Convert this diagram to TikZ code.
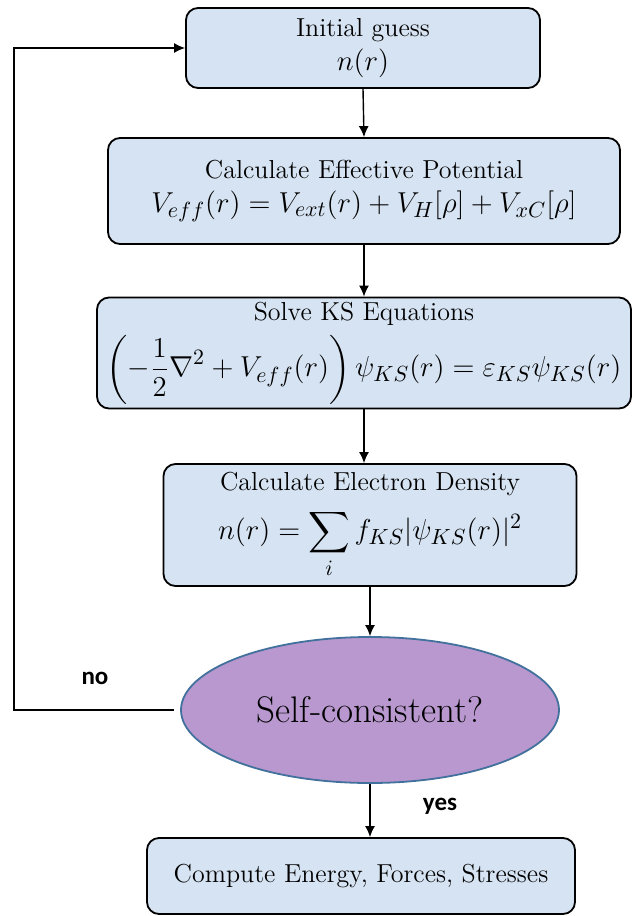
\documentclass[tikz,border=0pt]{standalone}
\usepackage{amsmath}
\usepackage{fontspec}
\usetikzlibrary{shapes.geometric, arrows.meta, positioning, calc}
\newfontfamily\answerfont{Carlito}
\definecolor{ks-blue}{RGB}{214,227,242}
\definecolor{ks-purple}{RGB}{184,152,206}
\definecolor{ks-edge}{RGB}{65,113,156}
\newcommand{\eqsize}{\fontsize{15}{18}\selectfont}

\begin{document}
\begin{tikzpicture}[
  x=0.5pt, y=0.5pt,
  stepbox/.style={draw=black, line width=0.9pt, fill=ks-blue, rounded corners=6pt, align=center, inner sep=0pt, font=\fontsize{13}{17}\selectfont},
  decision/.style={ellipse, draw=ks-edge, line width=0.9pt, fill=ks-purple, inner sep=0pt, font=\fontsize{18.5}{20}\selectfont},
  flow/.style={-{Latex[length=5.5pt,width=5pt]}, line width=0.7pt},
  answer/.style={font=\answerfont\bfseries\fontsize{12.5}{14}\selectfont},
]
  \useasboundingbox (0,0) rectangle (632,-916);

  % Steps of the SCF cycle
  \node[stepbox, minimum width=177pt, minimum height=40pt] (guess) at (363,-48) {Initial guess\\ {\eqsize$n(r)$}};
  \node[stepbox, minimum width=256pt, minimum height=53pt] (veff) at (364,-191) {Calculate Effective Potential\\ {\eqsize$V_{eff}(r) = V_{ext}(r) + V_H[\rho] + V_{xC}[\rho]$}};
  \node[stepbox, minimum width=267pt, minimum height=55.5pt] (kseq) at (364,-353) {Solve KS Equations\\[4pt] {\eqsize$\displaystyle\left(-\frac{1}{2}\nabla^2 + V_{eff}(r)\right)\psi_{KS}(r) = \varepsilon_{KS}\psi_{KS}(r)$}};
  \node[stepbox, minimum width=206.5pt, minimum height=61pt] (dens) at (370,-525) {Calculate Electron Density\\[6pt] {\eqsize$\displaystyle n(r) = \sum_i f_{KS}|\psi_{KS}(r)|^2$}};

  % Convergence check
  \node[decision, minimum width=189pt, minimum height=73pt] (scf) at (370,-710) {Self-consistent?};
  \node[stepbox, minimum width=214pt, minimum height=38pt] (result) at (361,-876) {Compute Energy, Forces, Stresses};

  % Connectors
  \draw[flow] (guess.south) -- (veff.north);
  \draw[flow] (veff.south) -- (kseq.north);
  \draw[flow] (kseq.south) -- (kseq.south |- dens.north);
  \draw[flow] (dens.south) -- (dens.south |- scf.north);
  \draw[flow] (scf.south) -- (scf.south |- result.north);
  \coordinate (loop) at (14,-400);
  \draw[flow] ([xshift=-3pt]scf.west) -| (loop) |- (guess.west);
  \node[answer] (no) at (95,-678) {no};
  \node[answer] (yes) at (440,-806) {yes};
\end{tikzpicture}
\end{document}
